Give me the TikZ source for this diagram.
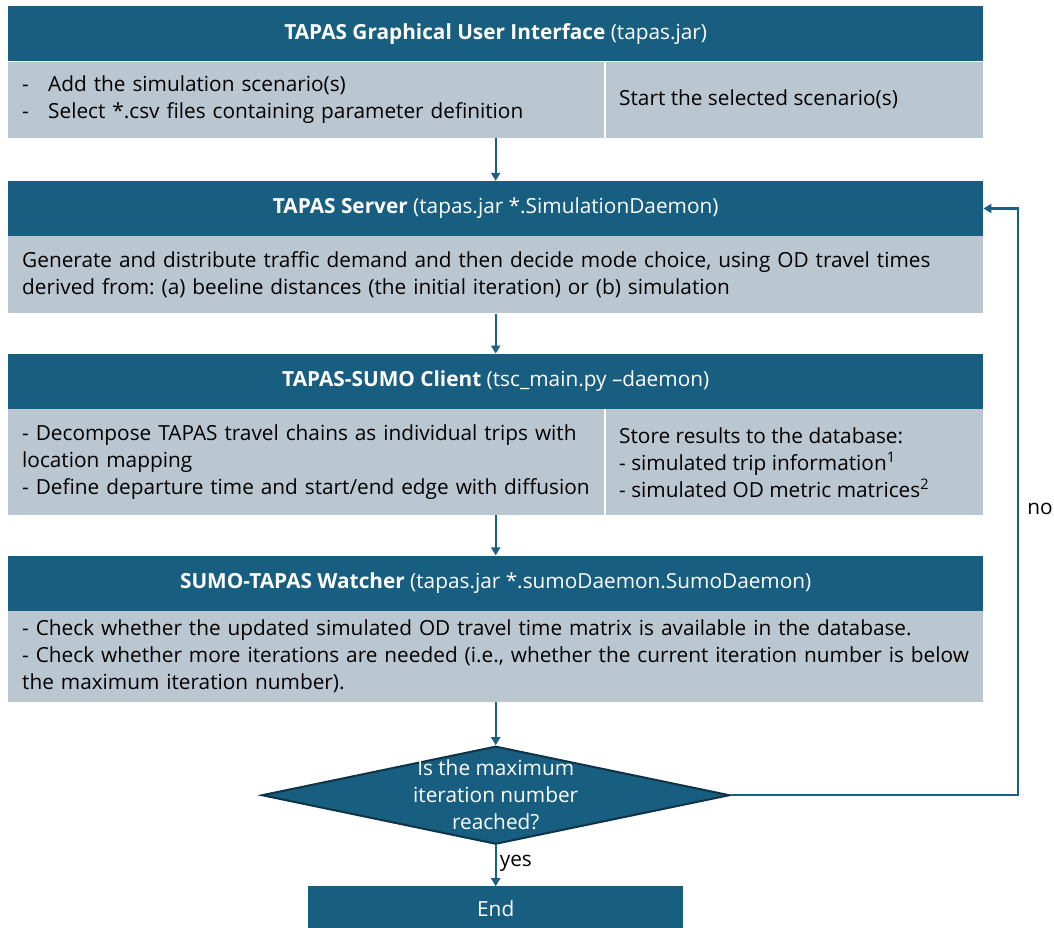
\documentclass[tikz,border=0pt]{standalone}
\usepackage{fontspec}
\setmainfont{Open Sans}
\frenchspacing
\usetikzlibrary{positioning,shapes.geometric,arrows.meta}

\definecolor{hdrblue}{RGB}{23,94,128}
\definecolor{bodygrey}{RGB}{186,198,208}
\definecolor{edgedark}{RGB}{14,52,72}
\definecolor{flowblue}{RGB}{26,96,132}

\tikzset{
	hdr/.style={fill=hdrblue, text=white, minimum width=975pt, minimum height=55pt, inner sep=0pt, font=\fontsize{20.8}{27}\selectfont},
	bodybox/.style={fill=bodygrey, text width=947pt, inner xsep=14pt, inner ysep=0pt, align=left, font=\fontsize{20.8}{27}\selectfont},
	sidetext/.style={inner xsep=14pt, inner ysep=0pt, align=left, anchor=west, font=\fontsize{20.8}{27}\selectfont},
	divider/.style={white, line width=2pt},
	flow/.style={draw=flowblue, line width=2.2pt, -{Triangle[width=9pt,length=8pt]}},
	decision/.style={diamond, fill=hdrblue, draw=edgedark, line width=2pt, minimum width=468pt, minimum height=98pt, inner sep=0pt},
	lbl/.style={font=\fontsize{20.8}{27}\selectfont}
}

\begin{document}
\begin{tikzpicture}[x=1pt, y=-1pt]
	\useasboundingbox (0,0) rectangle (1054,928);
	\coordinate (split) at (605,0); % divider in split boxes
	\coordinate (loop) at (1018,0); % return line
	
	% GUI
	\node[hdr, anchor=north west] (H1) at (8,6) {\textbf{TAPAS Graphical User Interface} (tapas.jar)};
	\node[bodybox, minimum height=76pt, below=0pt of H1] (B1) {\makebox[26pt][l]{-}Add the simulation scenario(s)\\ \makebox[26pt][l]{-}Select *.csv files containing parameter definition};
	\draw[divider] (B1.north -| split) -- (B1.south -| split);
	\node[sidetext] (B1r) at (B1.west -| split) {Start the selected scenario(s)};
	
	% server
	\node[hdr, below=43pt of B1] (H2) {\textbf{TAPAS Server} (tapas.jar *.SimulationDaemon)};
	\node[bodybox, minimum height=77pt, below=0pt of H2] (B2) {Generate and distribute traffic demand and then decide mode choice, using OD travel times\\ derived from: (a) beeline distances (the initial iteration) or (b) simulation};
	
	% client
	\node[hdr, below=40pt of B2] (H3) {\textbf{TAPAS-SUMO Client} (tsc\_main.py –daemon)};
	\node[bodybox, minimum height=106pt, below=0pt of H3] (B3) {- Decompose TAPAS travel chains as individual trips with\\ location mapping\\ - Define departure time and start/end edge with diffusion};
	\draw[divider] (B3.north -| split) -- (B3.south -| split);
	\node[sidetext] (B3r) at (B3.west -| split) {Store results to the database:\\ - simulated trip information\textsuperscript{1}\\ - simulated OD metric matrices\textsuperscript{2}};
	
	% watcher
	\node[hdr, below=40pt of B3] (H4) {\textbf{SUMO-TAPAS Watcher} (tapas.jar *.sumoDaemon.SumoDaemon)};
	\node[bodybox, minimum height=91pt, below=0pt of H4] (B4) {- Check whether the updated simulated OD travel time matrix is available in the database.\\ - Check whether more iterations are needed (i.e., whether the current iteration number is below\\ the maximum iteration number).};
	
	% decision and end
	\node[decision, below=43pt of B4] (dec) {};
	\node[lbl, text=white, align=center] (dectext) at (dec.center) {Is the maximum\\ iteration number\\ reached?};
	\node[hdr, minimum width=375pt, minimum height=45pt, below=41pt of dec] (end) {End};
	
	% arrows
	\draw[flow] (B1) -- (H2);
	\draw[flow] (B2) -- (H3);
	\draw[flow] (B3) -- (H4);
	\draw[flow] (B4) -- (dec);
	\draw[flow] (dec) -- node[lbl, right, pos=0.45, inner xsep=3pt] (yes) {yes} (end);
	\draw[flow] (dec.east) -- (dec.east -| loop) -- (H2.east -| loop) -- (H2.east);
	\node[lbl] (no) at (1040,509) {no};
\end{tikzpicture}
\end{document}
